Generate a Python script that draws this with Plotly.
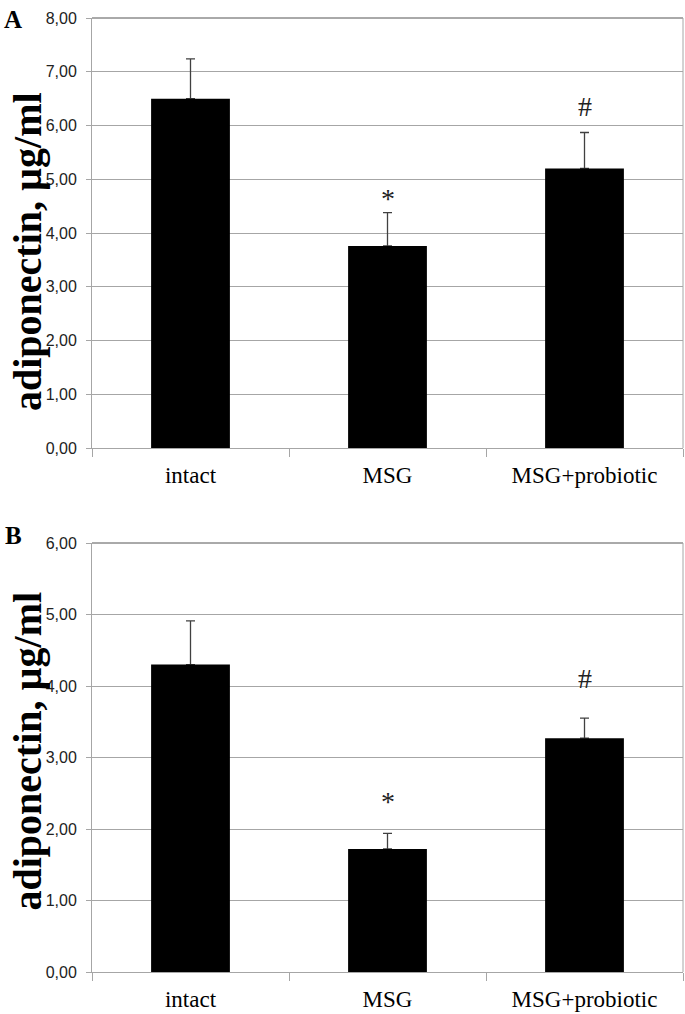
import plotly.graph_objects as go
from plotly.subplots import make_subplots

categories = ["intact", "MSG", "MSG+probiotic"]

# Panel A
a_values = [6.50, 3.76, 5.20]
a_err_top = [7.24, 4.38, 5.87]
# Panel B
b_values = [4.30, 1.72, 3.27]
b_err_top = [4.91, 1.94, 3.55]

a_ticks = [0, 1, 2, 3, 4, 5, 6, 7, 8]
b_ticks = [0, 1, 2, 3, 4, 5, 6]

marks_cat = ["MSG", "MSG+probiotic"]
a_marks_y = [4.65, 6.36]
b_marks_y = [2.38, 4.10]
marks_text = ["*", "#"]

fig = make_subplots(rows=2, cols=1)

for row, vals, tops in [(1, a_values, a_err_top), (2, b_values, b_err_top)]:
    # error bars (drawn first, under the bars)
    fig.add_trace(go.Bar(
        x=categories, y=vals, width=0.4,
        marker=dict(color="rgba(0,0,0,0)", line=dict(width=0)),
        error_y=dict(type="data", symmetric=False,
                     array=[t - v for t, v in zip(tops, vals)],
                     arrayminus=[0] * len(vals),
                     color="#404040", thickness=1.3, width=4.5),
        showlegend=False, hoverinfo="skip",
    ), row=row, col=1)
    fig.add_trace(go.Bar(
        x=categories, y=vals, width=0.4,
        marker=dict(color="black", line=dict(width=0)),
        showlegend=False,
    ), row=row, col=1)

H = 1014
t, b = 18, 42
ph = H - t - b
top_dom = [(972 - 448) / ph, 1.0]
bot_dom = [0.0, (972 - 543) / ph]

axis_y = dict(showgrid=True, gridcolor="#a6a6a6", gridwidth=1,
              showline=True, linecolor="#a6a6a6", linewidth=1,
              ticks="outside", ticklen=5, tickcolor="#a6a6a6",
              tickfont=dict(family="Liberation Sans", size=16, color="#222"),
              ticklabelstandoff=6, zeroline=False)
axis_x = dict(showline=True, linecolor="#a6a6a6", linewidth=1,
              ticks="outside", ticklen=8, tickcolor="#a6a6a6",
              tickson="boundaries",
              tickfont=dict(family="Liberation Serif", size=23, color="black"),
              ticklabelstandoff=6)

fig.update_layout(
    width=685, height=H,
    margin=dict(l=92, r=2, t=t, b=b),
    plot_bgcolor="white", paper_bgcolor="white",
    barmode="overlay",
    xaxis=dict(domain=[0, 1], **axis_x),
    xaxis2=dict(domain=[0, 1], **axis_x),
    yaxis=dict(domain=top_dom, range=[0, 8], tickvals=a_ticks,
               ticktext=[f"{v:.2f}".replace(".", ",") for v in a_ticks], **axis_y),
    yaxis2=dict(domain=bot_dom, range=[0, 6], tickvals=b_ticks,
                ticktext=[f"{v:.2f}".replace(".", ",") for v in b_ticks], **axis_y),
)

# frame lines (top + right)
for yr in ["y", "y2"]:
    xr = "x" if yr == "y" else "x2"
    fig.add_shape(type="line", xref=f"{xr} domain", yref=f"{yr} domain",
                  x0=0, x1=1, y0=1, y1=1, line=dict(color="#555", width=1))
    fig.add_shape(type="line", xref=f"{xr} domain", yref=f"{yr} domain",
                  x0=1, x1=1, y0=0, y1=1, line=dict(color="#a6a6a6", width=1))

anns = []
for xr, yr, ys, ysh, lab, lsh in [("x", "y", a_marks_y, -19, "A", -1),
                                   ("x2", "y2", b_marks_y, 6, "B", 8)]:
    for c, yv, txt in zip(marks_cat, ys, marks_text):
        anns.append(dict(x=c, y=yv, xref=xr, yref=yr, text=txt, showarrow=False,
                         yanchor="middle",
                         font=dict(family="Liberation Serif", size=28, color="#222")))
    anns.append(dict(x=0, y=0.5, xref="paper", yref=f"{yr} domain",
                     xanchor="center", yanchor="middle", xshift=-65, yshift=ysh,
                     text="<b>adiponectin, µg/ml</b>", textangle=-90, showarrow=False,
                     font=dict(family="Liberation Serif", size=40, color="black")))
    anns.append(dict(x=0, y=1, xref="paper", yref=f"{yr} domain",
                     xanchor="center", yanchor="middle", xshift=-79, yshift=lsh,
                     text=f"<b>{lab}</b>", showarrow=False,
                     font=dict(family="Liberation Serif", size=25, color="black")))

fig.update_layout(annotations=anns)
fig.write_html("out.html", config={"displayModeBar": False},
               post_script="document.body.style.margin='0';document.body.style.overflow='hidden';")
